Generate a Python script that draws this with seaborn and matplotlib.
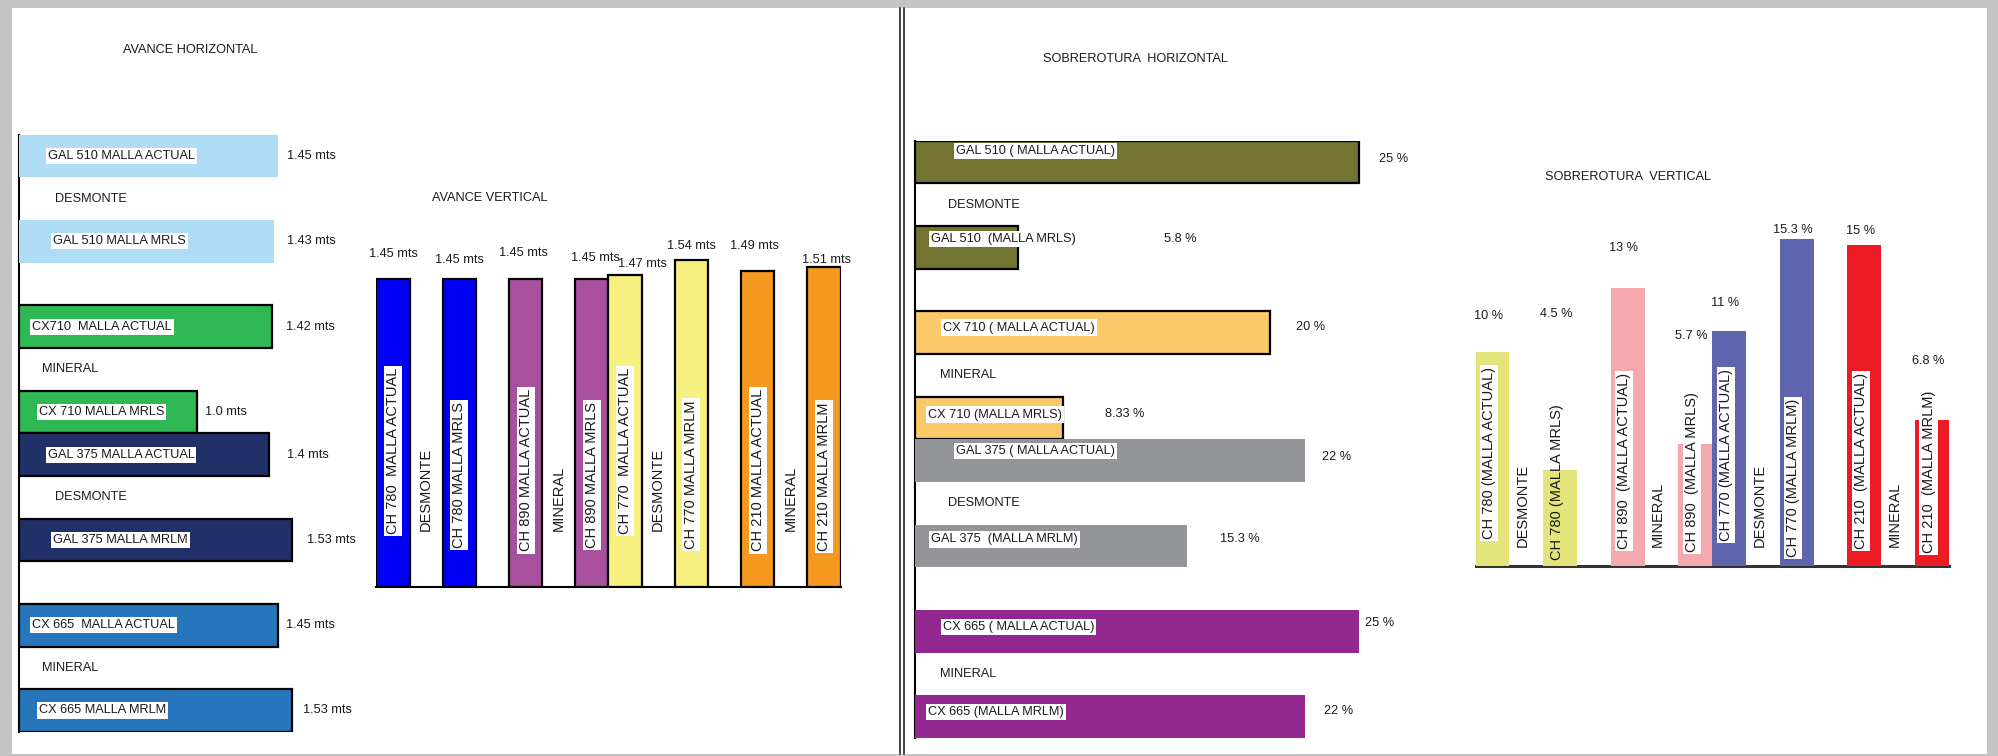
import matplotlib
matplotlib.use("Agg")
import numpy as np
import seaborn as sns
from matplotlib import pyplot as plt
from matplotlib.patches import Rectangle
from matplotlib.lines import Line2D

sns.set_theme(style="white")
plt.rcParams["font.family"] = ["Liberation Sans Narrow", "Liberation Sans", "DejaVu Sans"]

# ---- data ----
bar_slots = [0, 2, 4, 6, 7, 9, 11, 13]
group_slots = [1, 5, 8, 12]
group_names = ["DESMONTE", "MINERAL", "DESMONTE", "MINERAL"]

ah_labels = ["GAL 510 MALLA ACTUAL", "GAL 510 MALLA MRLS", "CX710  MALLA ACTUAL",
             "CX 710 MALLA MRLS", "GAL 375 MALLA ACTUAL", "GAL 375 MALLA MRLM",
             "CX 665  MALLA ACTUAL", "CX 665 MALLA MRLM"]
ah_values = [1.45, 1.43, 1.42, 1.0, 1.4, 1.53, 1.45, 1.53]
ah_text = ["1.45 mts", "1.43 mts", "1.42 mts", "1.0 mts", "1.4 mts", "1.53 mts",
           "1.45 mts", "1.53 mts"]

av_labels = ["CH 780  MALLA ACTUAL", "CH 780 MALLA MRLS", "CH 890 MALLA ACTUAL",
             "CH 890 MALLA MRLS", "CH 770  MALLA ACTUAL", "CH 770 MALLA MRLM",
             "CH 210 MALLA ACTUAL", "CH 210 MALLA MRLM"]
av_values = [1.45, 1.45, 1.45, 1.45, 1.47, 1.54, 1.49, 1.51]
av_text = ["1.45 mts", "1.45 mts", "1.45 mts", "1.45 mts", "1.47 mts", "1.54 mts",
           "1.49 mts", "1.51 mts"]

sh_labels = ["GAL 510 ( MALLA ACTUAL)", "GAL 510  (MALLA MRLS)", "CX 710 ( MALLA ACTUAL)",
             "CX 710 (MALLA MRLS)", "GAL 375 ( MALLA ACTUAL)", "GAL 375  (MALLA MRLM)",
             "CX 665 ( MALLA ACTUAL)", "CX 665 (MALLA MRLM)"]
sh_values = [25, 5.8, 20, 8.33, 22, 15.3, 25, 22]
sh_text = ["25 %", "5.8 %", "20 %", "8.33 %", "22 %", "15.3 %", "25 %", "22 %"]

sv_labels = ["CH 780 (MALLA ACTUAL)", "CH 780 (MALLA MRLS)", "CH 890  (MALLA ACTUAL)",
             "CH 890  (MALLA MRLS)", "CH 770 (MALLA ACTUAL)", "CH 770 (MALLA MRLM)",
             "CH 210  (MALLA ACTUAL)", "CH 210  (MALLA MRLM)"]
sv_values = [10, 4.5, 13, 5.7, 11, 15.3, 15, 6.8]
sv_text = ["10 %", "4.5 %", "13 %", "5.7 %", "11 %", "15.3 %", "15 %", "6.8 %"]

# ---- styles ----
ah_colors = ["#aedcf5", "#aedcf5", "#2fb853", "#2fb853", "#22306a", "#22306a", "#2776bc", "#2776bc"]
av_colors = ["#0000f5", "#0000f5", "#a8509e", "#a8509e", "#f5f080", "#f5f080", "#f5981f", "#f5981f"]
sh_colors = ["#737332", "#737332", "#fcc96a", "#fcc96a", "#939598", "#939598", "#92278f", "#92278f"]
sv_colors = ["#e3e57a", "#e3e57a", "#f5a9ae", "#f5a9ae", "#5e65ae", "#5e65ae", "#ed1c24", "#ed1c24"]

W, H = 1999, 756
FS = 9.2
FS_V = 10.5
TXT = "#1a1a1a"
box = dict(facecolor="white", edgecolor="none", pad=1.5)

fig = plt.figure(figsize=(W / 100, H / 100), dpi=100)
fig.patch.set_facecolor("#c4c4c4")
fig.add_artist(Rectangle((12 / W, 1 - 754 / H), 1975 / W, 746 / H,
                         transform=fig.transFigure, facecolor="white",
                         edgecolor="none", zorder=-5))
for xd in (900, 904):
    fig.add_artist(Line2D([xd / W, xd / W], [1 - 8 / H, 1 - 754 / H],
                          transform=fig.transFigure, color="#333333", lw=1.3))


def px_axes(left, top, right, bottom):
    ax = fig.add_axes([left / W, 1 - bottom / H, (right - left) / W, (bottom - top) / H])
    ax.set_facecolor("none")
    return ax


def bars(ax, labels, values, colors, orient):
    if orient == "h":
        sns.barplot(x=values, y=bar_slots, hue=labels, hue_order=labels,
                    palette=dict(zip(labels, colors)), orient="y", native_scale=True,
                    dodge=False, width=1.0, saturation=1, legend=False, errorbar=None, ax=ax)
    else:
        sns.barplot(x=bar_slots, y=values, hue=labels, hue_order=labels,
                    palette=dict(zip(labels, colors)), orient="x", native_scale=True,
                    dodge=False, width=1.0, saturation=1, legend=False, errorbar=None, ax=ax)
    ax.set_xlabel("")
    ax.set_ylabel("")
    ax.set_xticks([])
    ax.set_yticks([])
    for s in ax.spines.values():
        s.set_visible(False)


def spine(ax, side, color="black", lw=1.5):
    sp = ax.spines[side]
    sp.set_visible(True)
    sp.set_color(color)
    sp.set_linewidth(lw)
    sp.set_zorder(0.5)


def edges(ax, flags, lw=1.6):
    for cont, f in zip(ax.containers, flags):
        for p in cont.patches:
            if f:
                p.set_edgecolor("black")
                p.set_linewidth(lw)
            else:
                p.set_edgecolor("none")


# ---- AVANCE HORIZONTAL ----
ax1 = px_axes(19, 134.7, 358, 731.8)
bars(ax1, ah_labels, ah_values, ah_colors, "h")
ax1.set_xlim(0, 1.9)
ax1.set_ylim(13.5, -0.5)
spine(ax1, "left")
edges(ax1, [0, 0, 1, 1, 1, 1, 1, 1])
ah_lab_x = [0.16, 0.19, 0.075, 0.11, 0.16, 0.19, 0.075, 0.11]
ah_val_dx = [6.5, 9.4, 10, 5.8, 13, 10.8, 5.8, 8]
for i, (s, v) in enumerate(zip(bar_slots, ah_values)):
    ax1.text(ah_lab_x[i], s, ah_labels[i], ha="left", va="center", fontsize=FS,
             color=TXT, bbox=box)
    ax1.annotate(ah_text[i], (v, s), xytext=(ah_val_dx[i], 0), textcoords="offset points",
                 ha="left", va="center", fontsize=FS, color=TXT, annotation_clip=False)
for s, g in zip(group_slots, group_names):
    ax1.text(0.2 if g == "DESMONTE" else 0.13, s, g, ha="left", va="center",
             fontsize=FS, color=TXT)
fig.text(190 / W, 1 - 50 / H, "AVANCE HORIZONTAL", ha="center", va="center",
         fontsize=FS, color=TXT)

# ---- AVANCE VERTICAL ----
ax2 = px_axes(376.4, 184, 840.6, 587)
bars(ax2, av_labels, av_values, av_colors, "v")
ax2.set_xlim(-0.5, 13.5)
ax2.set_ylim(0, 1.9)
spine(ax2, "bottom")
edges(ax2, [1] * 8)
av_lab_y = [0.64, 0.53, 0.55, 0.53, 0.64, 0.53, 0.55, 0.52]
av_val_dy = [18, 13.7, 18.7, 15.8, 7.9, 10, 18, 5]
av_val_dx = [0, 0, -1.5, 2.5, 12.6, 0, -2, 2]
for i, (s, v) in enumerate(zip(bar_slots, av_values)):
    ax2.text(s, av_lab_y[i], av_labels[i], rotation=90, ha="center", va="center",
             fontsize=FS_V, color=TXT, bbox=box)
    ax2.annotate(av_text[i], (s, v), xytext=(av_val_dx[i], av_val_dy[i]),
                 textcoords="offset points", ha="center", va="center", fontsize=FS,
                 color=TXT, annotation_clip=False)
for s, g in zip(group_slots, group_names):
    ax2.text(s, 0.265, g, rotation=90, ha="center", va="bottom", fontsize=FS_V, color=TXT)
fig.text(490 / W, 1 - 198 / H, "AVANCE VERTICAL", ha="center", va="center",
         fontsize=FS, color=TXT)

# ---- SOBREROTURA HORIZONTAL ----
ax3 = px_axes(915, 140.7, 1412, 737.8)
bars(ax3, sh_labels, sh_values, sh_colors, "h")
ax3.set_xlim(0, 28)
ax3.set_ylim(13.5, -0.5)
spine(ax3, "left")
edges(ax3, [1, 1, 1, 1, 0, 0, 0, 0])
sh_lab_x = [2.3, 0.9, 1.57, 0.72, 2.3, 0.9, 1.57, 0.72]
sh_lab_dy = [-0.26, -0.19, -0.12, -0.08, -0.23, -0.15, -0.09, -0.1]
sh_val_dx = [14.4, 105, 18.7, 30.2, 12.2, 23.8, 4.3, 13]
sh_val_dy = [2.2, 5.8, 4.3, 2.5, 2.5, 4.7, 5.8, 4]
for i, (s, v) in enumerate(zip(bar_slots, sh_values)):
    ax3.text(sh_lab_x[i], s + sh_lab_dy[i], sh_labels[i], ha="left", va="center",
             fontsize=FS, color=TXT, bbox=box)
    ax3.annotate(sh_text[i], (v, s), xytext=(sh_val_dx[i], sh_val_dy[i]),
                 textcoords="offset points", ha="left", va="center", fontsize=FS,
                 color=TXT, annotation_clip=False)
for s, g in zip(group_slots, group_names):
    ax3.text(1.86 if g == "DESMONTE" else 1.41, s, g, ha="left", va="center",
             fontsize=FS, color=TXT)
fig.text(1135 / W, 1 - 59 / H, "SOBREROTURA  HORIZONTAL", ha="center", va="center",
         fontsize=FS, color=TXT)

# ---- SOBREROTURA VERTICAL ----
ax4 = px_axes(1475.6, 138, 1948.8, 566)
bars(ax4, sv_labels, sv_values, sv_colors, "v")
ax4.set_xlim(-0.5, 13.5)
ax4.set_ylim(0, 20)
spine(ax4, "bottom", color="#333333", lw=2.2)
edges(ax4, [0] * 8)
sv_lab_y = [5.28, 3.9, 4.9, 4.4, 5.2, 4.1, 4.9, 4.4]
sv_val_dy = [26, 112, 29, 78, 20, 6.5, 10, 42.5]
for i, (s, v) in enumerate(zip(bar_slots, sv_values)):
    ax4.text(s - 0.1, sv_lab_y[i], sv_labels[i], rotation=90, ha="center", va="center",
             fontsize=FS_V, color=TXT, bbox=None if i == 1 else box)
    ax4.annotate(sv_text[i], (s, v), xytext=(-3, sv_val_dy[i]), textcoords="offset points",
                 ha="center", va="center", fontsize=FS, color=TXT, annotation_clip=False)
for s, g in zip(group_slots, group_names):
    ax4.text(s - 0.1, 0.9, g, rotation=90, ha="center", va="bottom", fontsize=FS_V, color=TXT)
fig.text(1628 / W, 1 - 177 / H, "SOBREROTURA  VERTICAL", ha="center", va="center",
         fontsize=FS, color=TXT)

fig.savefig("out.png", dpi=100, facecolor=fig.get_facecolor())
plt.close(fig)
